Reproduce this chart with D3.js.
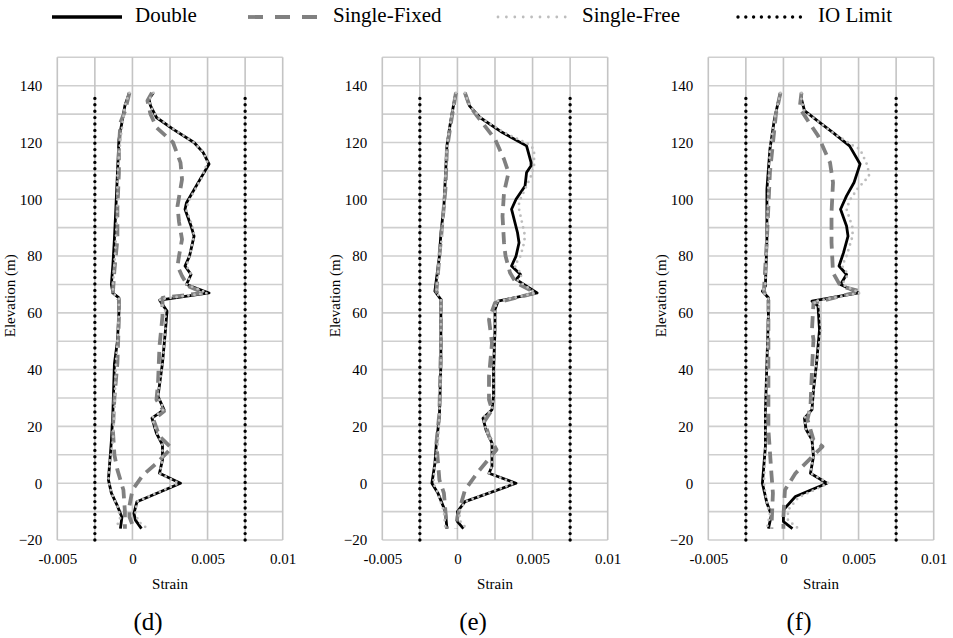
<!DOCTYPE html>
<html><head><meta charset="utf-8">
<script src="https://cdn.jsdelivr.net/npm/d3@7"></script>
</head>
<body style="margin:0;background:#fff">
<svg id="chart" width="953" height="638"></svg>
<script>
// ---- Data (strain, elevation m) ----
const panelLabels = ["(d)", "(e)", "(f)"];
const seriesNames = ["Double", "Single-Fixed", "Single-Free", "IO Limit"];
const xTickValues = [-0.005, 0, 0.005, 0.01];
const xTickLabels = ["-0.005", "0", "0.005", "0.01"];
const yTickValues = [-20, 0, 20, 40, 60, 80, 100, 120, 140];
const ioStrain = [-0.0025, 0.0075];
const ioElev = [-20, 137.5];

// Panel (d)
const dDoubleR = [[0.0014,137.5],[0.0011,135.3],[0.0012,133],[0.0016,128.8],[0.0027,124.7],[0.0041,120],[0.0047,116.5],[0.0051,112.4],[0.0045,107],[0.0036,98.8],[0.0035,96.5],[0.0039,90.6],[0.0041,87],[0.0038,80],[0.0035,76.5],[0.0039,73.5],[0.0036,70],[0.0051,67],[0.0018,64.5],[0.0023,60.6],[0.0022,54],[0.0020,42.4],[0.0017,30.6],[0.0021,25.9],[0.0013,22.9],[0.0016,17.6],[0.0020,13.5],[0.0020,8.2],[0.0018,3.5],[0.0032,0],[0.0003,-6.5],[0.0001,-10.6],[0.0002,-13],[0.0006,-16]];
const dDoubleL = [[-0.0002,137.5],[-0.0005,133],[-0.0009,121],[-0.0010,109],[-0.0011,97],[-0.0012,86],[-0.0013,77],[-0.0014,70],[-0.0013,67],[-0.0009,65.3],[-0.0009,60],[-0.0010,50],[-0.0012,42],[-0.0013,25],[-0.0014,15],[-0.0015,8],[-0.0016,1.2],[-0.0014,-3.5],[-0.0010,-8],[-0.0007,-12],[-0.0008,-16]];
const dFixedR = [[0.0013,137.5],[0.0010,134.7],[0.0012,130],[0.0016,125.3],[0.0027,120],[0.0032,112.9],[0.0033,107],[0.0030,97.6],[0.0031,92],[0.0033,85.9],[0.0031,80],[0.0030,76.5],[0.0033,73],[0.0037,69.4],[0.0048,67],[0.0020,65.3],[0.0020,58.8],[0.0018,48.2],[0.0017,35],[0.0016,29.4],[0.0021,25.3],[0.0014,22.4],[0.0018,16.5],[0.0026,12.4],[0.0016,7],[0.0007,2.9],[0.0000,-2.4],[-0.0002,-8],[-0.0002,-11.8],[0.0001,-16]];
const dFixedL = [[-0.0002,137.5],[-0.0005,131],[-0.0008,127],[-0.0009,118],[-0.0009,109.4],[-0.0010,97],[-0.0010,85.9],[-0.0012,75],[-0.0013,67],[-0.0009,64.7],[-0.0009,58],[-0.0010,42.4],[-0.0012,30],[-0.0013,18.8],[-0.0012,10],[-0.0010,4.7],[-0.0006,-2.4],[-0.0005,-10],[-0.0005,-16]];
const dFreeR = [[0.0014,137.5],[0.0011,135],[0.0012,133],[0.0016,129],[0.0028,124.5],[0.0041,120],[0.0047,116.5],[0.0050,113],[0.0046,107.5],[0.0037,99],[0.0036,96],[0.0040,90.5],[0.0041,87],[0.0038,80],[0.0036,76.5],[0.0039,73.5],[0.0036,70],[0.0050,67],[0.0018,64.8],[0.0022,60.5],[0.0022,54],[0.0020,42],[0.0017,30.5],[0.0021,26],[0.0013,23],[0.0016,18],[0.0020,13.5],[0.0020,8],[0.0018,3.5],[0.0031,0],[0.0003,-6.5],[0.0002,-10.5],[0.0004,-13.5],[0.0010,-16]];
const dFreeL = [[-0.0002,137.5],[-0.0005,133],[-0.0008,121],[-0.0010,109],[-0.0010,97],[-0.0011,86],[-0.0012,77],[-0.0013,70],[-0.0013,67],[-0.0009,65],[-0.0009,60],[-0.0010,50],[-0.0011,42],[-0.0012,25],[-0.0013,15],[-0.0015,8],[-0.0016,1],[-0.0014,-3.5],[-0.0010,-8],[-0.0008,-12],[-0.0011,-16]];

// Panel (e)
const eDoubleR = [[0.0005,137.5],[0.0008,132.9],[0.0015,128.8],[0.0030,123.5],[0.0046,118.8],[0.0049,113],[0.0049,111.8],[0.0046,109.4],[0.0045,104.7],[0.0039,100],[0.0036,96.5],[0.0040,88.2],[0.0041,84.7],[0.0039,80],[0.0036,76.5],[0.0042,73.5],[0.0039,71.8],[0.0053,67],[0.0027,64.1],[0.0025,61.2],[0.0025,54],[0.0024,40],[0.0024,30.6],[0.0023,25.9],[0.0017,22.9],[0.0019,18.8],[0.0023,14.1],[0.0023,5.9],[0.0021,3.5],[0.0039,0],[0.0005,-6.5],[0.0000,-10],[0.0000,-13.5],[0.0004,-16]];
const eDoubleL = [[-0.0001,137.5],[-0.0003,132],[-0.0005,125.9],[-0.0007,118.8],[-0.0008,108],[-0.0009,97.6],[-0.0011,88],[-0.0012,80],[-0.0015,67.6],[-0.0011,64.7],[-0.0011,60],[-0.0011,42.4],[-0.0012,23.5],[-0.0014,14.1],[-0.0015,7],[-0.0017,0],[-0.0013,-3.5],[-0.0008,-10],[-0.0007,-16]];
const eFixedR = [[0.0005,137.5],[0.0008,133],[0.0013,129.4],[0.0025,121.2],[0.0031,114.1],[0.0034,109.4],[0.0031,102.4],[0.0030,94.1],[0.0031,84.7],[0.0032,80],[0.0035,74.1],[0.0039,70.6],[0.0052,67],[0.0025,63.5],[0.0021,57.6],[0.0023,49.4],[0.0021,37.6],[0.0021,29.4],[0.0023,25.9],[0.0018,21.8],[0.0021,16.5],[0.0026,11.8],[0.0013,3.5],[0.0005,-2.4],[0.0000,-11.8],[-0.0001,-16]];
const eFixedL = [[-0.0001,137.5],[-0.0004,128],[-0.0007,117.6],[-0.0008,103.5],[-0.0011,85.9],[-0.0014,67.6],[-0.0011,64.7],[-0.0011,48.2],[-0.0012,24.7],[-0.0014,14.1],[-0.0012,1.2],[-0.0009,-3.5],[-0.0007,-16]];
const eFreeR = [[0.0005,137.5],[0.0008,133],[0.0016,128.5],[0.0031,123.5],[0.0047,119.5],[0.0051,117.6],[0.0051,111.8],[0.0049,108.2],[0.0046,104.7],[0.0041,99],[0.0041,96.5],[0.0045,87],[0.0044,84],[0.0042,80],[0.0038,76.5],[0.0043,73.5],[0.0040,71.5],[0.0052,67],[0.0026,64],[0.0025,61],[0.0025,54],[0.0024,40],[0.0024,30.5],[0.0023,26],[0.0017,23],[0.0019,19],[0.0023,14],[0.0023,6],[0.0021,3.5],[0.0038,0],[0.0005,-6.5],[0.0001,-10],[0.0002,-13.5],[0.0006,-16]];
const eFreeL = [[-0.0001,137.5],[-0.0003,132],[-0.0005,126],[-0.0007,119],[-0.0008,108],[-0.0009,97.5],[-0.0010,88],[-0.0012,80],[-0.0014,67.5],[-0.0011,64.5],[-0.0011,60],[-0.0011,42],[-0.0012,23.5],[-0.0013,14],[-0.0015,7],[-0.0016,0],[-0.0013,-3.5],[-0.0009,-10],[-0.0008,-16]];

// Panel (f)
const fDoubleR = [[0.0012,137.5],[0.0012,135.3],[0.0014,131.2],[0.0024,127.1],[0.0033,123.5],[0.0044,118.8],[0.0051,112.4],[0.0047,105.9],[0.0042,101.2],[0.0038,96.5],[0.0042,90.6],[0.0043,87],[0.0040,81.2],[0.0037,76.5],[0.0042,73.5],[0.0038,70],[0.0050,67],[0.0019,64.1],[0.0023,62.4],[0.0024,54],[0.0022,42],[0.0020,32.9],[0.0019,25.9],[0.0014,22.9],[0.0015,19],[0.0019,15.3],[0.0020,9.4],[0.0018,3.5],[0.0029,0],[0.0008,-4.7],[0.0000,-9.4],[0.0000,-13.5],[0.0006,-16]];
const fDoubleL = [[-0.0002,137.5],[-0.0004,133],[-0.0006,128.2],[-0.0009,117.6],[-0.0011,103.5],[-0.0011,85.9],[-0.0012,69.4],[-0.0014,67.6],[-0.0010,65.3],[-0.0010,58.8],[-0.0011,42.4],[-0.0012,25],[-0.0012,12.9],[-0.0014,0],[-0.0011,-7],[-0.0008,-11.2],[-0.0010,-16]];
const fFixedR = [[0.0012,137.5],[0.0011,133],[0.0012,131.2],[0.0017,127.1],[0.0023,122.4],[0.0031,112.9],[0.0033,105.9],[0.0032,95.3],[0.0032,84.7],[0.0033,74.1],[0.0038,69.4],[0.0051,67.6],[0.0020,63.5],[0.0019,54.1],[0.0020,50.6],[0.0019,40],[0.0018,27.1],[0.0016,22.4],[0.0020,15.3],[0.0026,12.9],[0.0008,3.5],[0.0001,-2.4],[0.0000,-11.8],[0.0000,-16]];
const fFixedL = [[-0.0002,137.5],[-0.0005,130],[-0.0009,109.4],[-0.0011,85.9],[-0.0013,67.6],[-0.0010,64.7],[-0.0010,42.4],[-0.0010,18.8],[-0.0008,3.5],[-0.0007,-3.5],[-0.0008,-16]];
const fFreeR = [[0.0012,137.5],[0.0012,135],[0.0014,131],[0.0024,127],[0.0034,123],[0.0046,119],[0.0051,117.6],[0.0056,111.8],[0.0057,108.2],[0.0049,103.5],[0.0044,99.5],[0.0042,96.5],[0.0046,90],[0.0046,87],[0.0042,80],[0.0039,76.5],[0.0043,73.5],[0.0039,70],[0.0051,67],[0.0020,64],[0.0024,62],[0.0025,54],[0.0022,42],[0.0020,33],[0.0019,26],[0.0014,23],[0.0015,19],[0.0019,15],[0.0020,9.5],[0.0018,3.5],[0.0030,0],[0.0010,-5],[0.0003,-9.5],[0.0003,-13],[0.0010,-16]];
const fFreeL = [[-0.0002,137.5],[-0.0004,133],[-0.0006,128],[-0.0009,118],[-0.0010,104],[-0.0011,86],[-0.0012,69.5],[-0.0014,67.5],[-0.0010,65],[-0.0010,59],[-0.0011,42],[-0.0012,25],[-0.0012,13],[-0.0013,0],[-0.0011,-7],[-0.0009,-11],[-0.0011,-16]];

const panels = [
  {label: panelLabels[0], double: [dDoubleR, dDoubleL], fixed: [dFixedR, dFixedL], free: [dFreeR, dFreeL]},
  {label: panelLabels[1], double: [eDoubleR, eDoubleL], fixed: [eFixedR, eFixedL], free: [eFreeR, eFreeL]},
  {label: panelLabels[2], double: [fDoubleR, fDoubleL], fixed: [fFixedR, fFixedL], free: [fFreeR, fFreeL]}
];

// ---- Styles ----
const FONT = "Liberation Serif";
const styles = {
  "Double": {stroke: "#000000", width: 2.8, dash: null, cap: "butt"},
  "Single-Fixed": {stroke: "#808080", width: 3.8, dash: "12,7", cap: "butt"},
  "Single-Free": {stroke: "#bdbdbd", width: 2.8, dash: "0,6", cap: "round"},
  "IO Limit": {stroke: "#000000", width: 3.4, dash: "0,6.4", cap: "round"}
};

const svg = d3.select("#chart");
const panelLefts = [57.3, 382.3, 708.3];
const plotW = 225.4, plotTop = 57.3, plotBottom = 540;

const line = d3.line();

panels.forEach((p, i) => {
  const L = panelLefts[i];
  const x = d3.scaleLinear().domain([-0.005, 0.01]).range([L, L + plotW]);
  const y = d3.scaleLinear().domain([-20, 150]).range([plotBottom, plotTop]);
  line.x(d => x(d[0])).y(d => y(d[1]));
  const g = svg.append("g");

  // gridlines
  g.append("g").selectAll("line").data(d3.range(-20, 151, 10)).join("line")
    .attr("x1", L).attr("x2", L + plotW)
    .attr("y1", d => y(d)).attr("y2", d => y(d))
    .attr("stroke", "#cfcfcf").attr("stroke-width", 1.6);
  g.append("g").selectAll("line").data(d3.range(0, 7).map(k => -0.005 + k * 0.0025)).join("line")
    .attr("x1", d => x(d)).attr("x2", d => x(d))
    .attr("y1", y(-20)).attr("y2", y(150))
    .attr("stroke", "#c4c4c4").attr("stroke-width", 1.6);

  // axes (labels only)
  const ax = g.append("g").attr("transform", `translate(0,${plotBottom})`)
    .call(d3.axisBottom(x).tickValues(xTickValues).tickFormat((d, k) => xTickLabels[k]).tickSize(0).tickPadding(13));
  ax.select(".domain").remove();
  ax.attr("font-size", 15).attr("font-family", FONT);
  ax.selectAll("text").attr("fill", "#000").attr("font-family", FONT).attr("font-size", 15);

  const ay = g.append("g").attr("transform", `translate(${L},0)`)
    .call(d3.axisLeft(y).tickValues(yTickValues).tickFormat(d3.format("d")).tickSize(0).tickPadding(15));
  ay.select(".domain").remove();
  ay.attr("font-size", 15).attr("font-family", FONT);
  ay.selectAll("text").attr("fill", "#000").attr("font-family", FONT).attr("font-size", 15);

  // axis titles
  g.append("text").attr("x", L + plotW / 2).attr("y", 589).attr("font-family", FONT)
    .attr("text-anchor", "middle").attr("font-size", 15).text("Strain");
  g.append("text").attr("transform", `translate(${L - 42},${y(66)}) rotate(-90)`).attr("font-family", FONT)
    .attr("text-anchor", "middle").attr("font-size", 15).text("Elevation (m)");
  g.append("text").attr("x", L + plotW / 2 - 22).attr("y", 630).attr("font-family", FONT)
    .attr("text-anchor", "middle").attr("font-size", 25).text(p.label);

  // series
  const drawSeries = (branches, name) => {
    const s = styles[name];
    g.append("g").selectAll("path").data(branches).join("path")
      .attr("d", d => line(d)).attr("fill", "none")
      .attr("stroke", s.stroke).attr("stroke-width", s.width)
      .attr("stroke-dasharray", s.dash).attr("stroke-linecap", s.cap)
      .attr("stroke-linejoin", "round");
  };
  drawSeries(p.double, "Double");
  drawSeries(p.fixed, "Single-Fixed");
  drawSeries(p.free, "Single-Free");
  drawSeries(ioStrain.map(v => ioElev.map(e => [v, e])), "IO Limit");
});

// ---- Legend ----
const legendItems = [
  {name: seriesNames[0], x1: 52, x2: 122, tx: 135},
  {name: seriesNames[1], x1: 248, x2: 320, tx: 333},
  {name: seriesNames[2], x1: 498, x2: 566, tx: 582},
  {name: seriesNames[3], x1: 738, x2: 802, tx: 818}
];
const lg = svg.append("g");
legendItems.forEach(it => {
  const s = styles[it.name];
  lg.append("line").attr("x1", it.x1).attr("x2", it.x2).attr("y1", 17).attr("y2", 17)
    .attr("stroke", s.stroke).attr("stroke-width", it.name === "Double" ? 3.4 : s.width)
    .attr("stroke-dasharray", it.name === "Single-Fixed" ? "15,12" : (it.name === "Single-Free" ? "0,8.4" : (it.name === "IO Limit" ? "0,7.8" : null)))
    .attr("stroke-linecap", s.cap);
  lg.append("text").attr("x", it.tx).attr("y", 22).attr("font-family", FONT).attr("font-size", 21).text(it.name);
});
</script>
</body></html>
